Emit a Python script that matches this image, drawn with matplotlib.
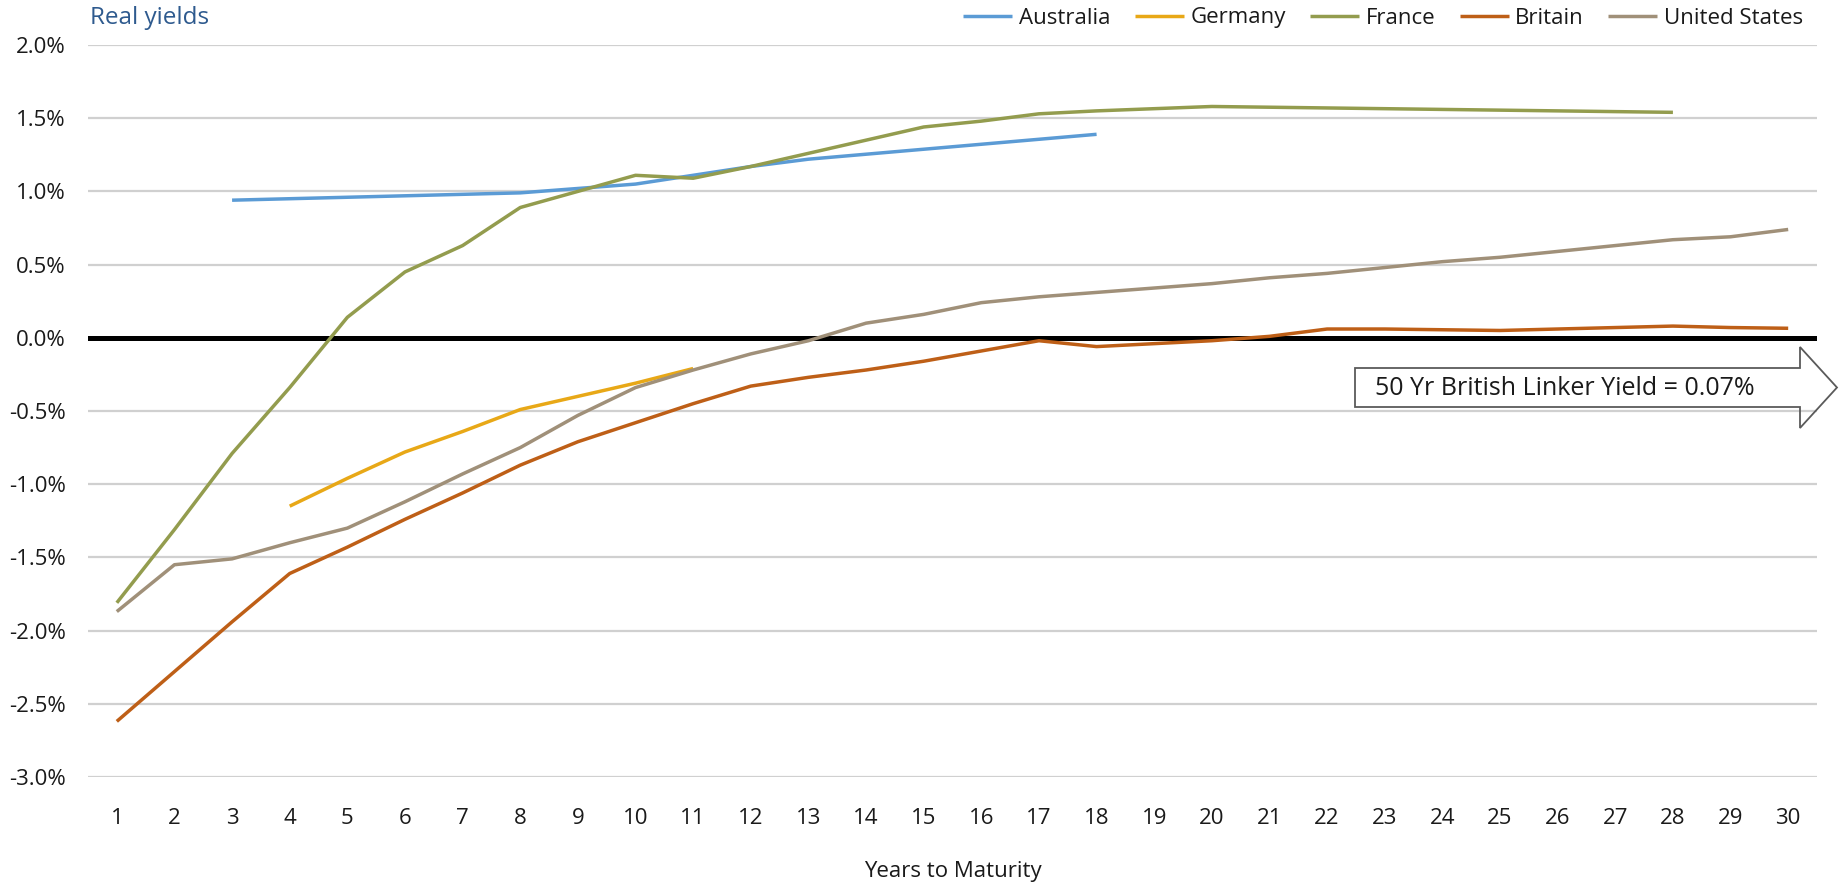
import numpy as np
import matplotlib
matplotlib.use("Agg")
import matplotlib.pyplot as plt
from matplotlib.patches import Polygon

plt.rcParams['font.family'] = ['Open Sans', 'DejaVu Sans']

# Real yield curves (%), by years to maturity
years = list(range(1, 31))

australia_years = [3, 8, 9, 10, 11, 12, 13, 18]
australia = [0.94, 0.99, 1.02, 1.05, 1.11, 1.17, 1.22, 1.39]

germany_years = [4, 5, 6, 7, 8, 9, 10, 11]
germany = [-1.15, -0.96, -0.78, -0.64, -0.49, -0.40, -0.31, -0.21]

france_years = [1, 2, 3, 4, 5, 6, 7, 8, 9, 10, 11, 12, 13, 14, 15, 16, 17, 18, 20, 28]
france = [-1.81, -1.31, -0.79, -0.34, 0.14, 0.45, 0.63, 0.89, 1.00, 1.11, 1.09,
          1.17, 1.26, 1.35, 1.44, 1.48, 1.53, 1.55, 1.58, 1.54]

britain_years = years
britain = [-2.62, -2.28, -1.94, -1.61, -1.43, -1.24, -1.06, -0.87, -0.71, -0.58,
           -0.45, -0.33, -0.27, -0.22, -0.16, -0.09, -0.02, -0.06, -0.04, -0.02,
           0.01, 0.06, 0.06, 0.055, 0.05, 0.06, 0.07, 0.08, 0.07, 0.065]

us_years = years
us = [-1.87, -1.55, -1.51, -1.40, -1.30, -1.12, -0.93, -0.75, -0.53, -0.34,
      -0.22, -0.11, -0.02, 0.10, 0.16, 0.24, 0.28, 0.31, 0.34, 0.37,
      0.41, 0.44, 0.48, 0.52, 0.55, 0.59, 0.63, 0.67, 0.69, 0.74]

series = [
    ("Australia", australia_years, australia, "#5B9BD5"),
    ("Germany", germany_years, germany, "#E8A817"),
    ("France", france_years, france, "#939C4E"),
    ("Britain", britain_years, britain, "#BE5F17"),
    ("United States", us_years, us, "#A09079"),
]

yticks = [2.0, 1.5, 1.0, 0.5, 0.0, -0.5, -1.0, -1.5, -2.0, -2.5, -3.0]
linker_note = "50 Yr British Linker Yield = 0.07%"

fig = plt.figure(figsize=(18.39, 8.85), dpi=100)
W, H = 1839, 885
ax = fig.add_axes([88 / W, (H - 777) / H, (1817 - 88) / W, (777 - 45) / H])

for name, xs, ys, color in series:
    ax.plot(xs, ys, color=color, lw=2.5, label=name, solid_capstyle='butt',
            solid_joinstyle='round', zorder=3)

ax.axhline(0, color='black', lw=3.6, zorder=2)

ax.set_xlim(0.5, 30.5)
ax.set_ylim(-3.0, 2.0)
ax.set_yticks(yticks)
ax.set_yticklabels([f"{v:.1f}%" for v in yticks])
ax.set_xticks(years)
ax.set_xticklabels([str(y) for y in years])
ax.yaxis.grid(True, color='#D0D0D0', lw=1.6)
ax.set_axisbelow(True)
for s in ax.spines.values():
    s.set_visible(False)
ax.tick_params(axis='both', length=0, labelsize=16, colors='#1a1a1a')
ax.tick_params(axis='y', pad=16)
ax.tick_params(axis='x', pad=22)

ax.set_xlabel("Years to Maturity", fontsize=16, color='#1a1a1a', labelpad=23)

fig.text(90 / W, 1 - 18 / H, "Real yields", fontsize=17.5, color='#2E5A8E',
         ha='left', va='center')

leg = fig.legend(loc='center right', bbox_to_anchor=(1812 / W, 1 - 18 / H),
                 ncol=5, frameon=False, fontsize=16, handlelength=2.2,
                 handletextpad=0.3, columnspacing=1.1, borderaxespad=0)
for t in leg.get_texts():
    t.set_color('#1a1a1a')

# Arrow-shaped callout
def fx(px):
    return px / W

def fy(py):
    return 1 - py / H

arrow_pts = [
    (fx(1355), fy(368)), (fx(1800), fy(368)), (fx(1800), fy(347)),
    (fx(1837), fy(387.5)), (fx(1800), fy(428)), (fx(1800), fy(407)),
    (fx(1355), fy(407)),
]
fig.patches.append(Polygon(arrow_pts, closed=True, transform=fig.transFigure,
                           facecolor='none', edgecolor='#5A5A5A', lw=1.3,
                           figure=fig))
fig.text(fx(1375), fy(388), linker_note, fontsize=18, color='#1a1a1a',
         ha='left', va='center')

fig.savefig("out.png", dpi=100, facecolor='white')
